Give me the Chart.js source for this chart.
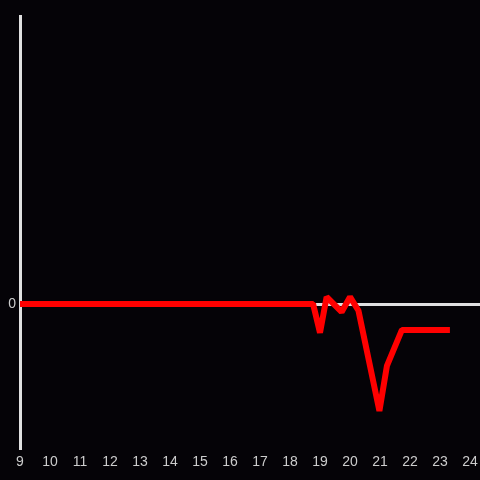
<!DOCTYPE html>
<html><head><meta charset="utf-8">
<script src="https://cdn.jsdelivr.net/npm/chart.js@4"></script>
<style>html,body{margin:0;padding:0;background:#050307;}#wrap{width:480px;height:480px;}</style>
</head><body><div id="wrap"><canvas id="c"></canvas></div>
<script>
const xs = [9, 18.77, 19.0, 19.22, 19.72, 20.0, 20.28, 20.98, 21.23, 21.73, 23.33];
const ys = [0, 0, -0.2, 0.049, -0.055, 0.049, -0.045, -0.743, -0.43, -0.18, -0.18];
const xTickLabels = [9,10,11,12,13,14,15,16,17,18,19,20,21,22,23,24];
const yTickLabels = [0];

const pts = xs.map((x,i)=>({x:x,y:ys[i]}));
new Chart(document.getElementById('c'), {
  type:'line',
  data:{datasets:[{data:pts,borderColor:'#ff0000',borderWidth:6,borderJoinStyle:'bevel',pointRadius:0,tension:0,fill:false}]},
  options:{
    responsive:true,maintainAspectRatio:false,animation:false,
    layout:{padding:{top:16,right:0,left:0,bottom:0}},
    plugins:{legend:{display:false},tooltip:{enabled:false}},
    scales:{
      x:{type:'linear',min:9,max:24.333,
        afterFit:s=>{s.height=32;s.paddingLeft=0;s.paddingRight=0;},
        afterBuildTicks:s=>{s.ticks=xTickLabels.map(v=>({value:v}));},
        border:{display:false},
        grid:{display:false,drawTicks:false},
        ticks:{autoSkip:false,maxRotation:0,padding:6,color:'#cccccc',font:{family:'Liberation Sans',size:14}}},
      y:{type:'linear',min:-1,max:2,
        afterFit:s=>{s.width=20;s.paddingTop=0;s.paddingBottom=0;},
        afterBuildTicks:s=>{s.ticks=yTickLabels.map(v=>({value:v}));},
        border:{display:true,color:'#e0e0e0',width:3},
        grid:{drawTicks:false,color:c=>c.tick&&c.tick.value===0?'#e0e0e0':'transparent',lineWidth:3},
        ticks:{padding:4,color:'#cccccc',font:{family:'Liberation Sans',size:14}}}
    }
  }
});
</script></body></html>
